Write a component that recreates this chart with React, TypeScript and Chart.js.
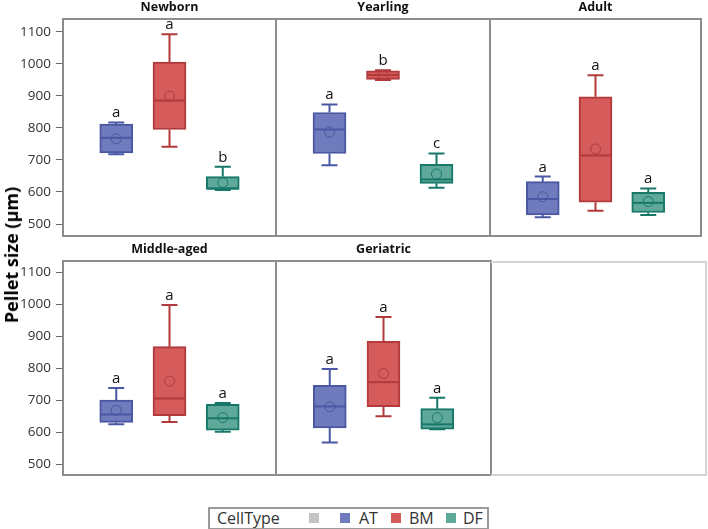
import React, { useEffect, useRef } from "react";
import { Chart, registerables } from "chart.js";

Chart.register(...registerables);

// ---------- data ----------
const panelTitles = ["Newborn", "Yearling", "Adult", "Middle-aged", "Geriatric"];
const cellTypes = ["AT", "BM", "DF"];
const whiskerLow = [
  [718, 741, 606],
  [683, 949, 613],
  [521, 541, 528],
  [624, 631, 601],
  [567, 649, 609],
];
const quartile1 = [
  [722, 795, 608],
  [720, 951, 627],
  [528, 568, 536],
  [630, 651, 606],
  [613, 679, 609],
];
const medians = [
  [769, 885, 611],
  [795, 965, 639],
  [578, 714, 566],
  [655, 705, 643],
  [680, 756, 624],
];
const quartile3 = [
  [812, 1005, 648],
  [848, 978, 686],
  [632, 897, 599],
  [700, 867, 687],
  [746, 884, 673],
];
const whiskerHigh = [
  [817, 1092, 679],
  [873, 980, 720],
  [648, 964, 611],
  [738, 997, 691],
  [797, 960, 707],
];
const means = [
  [766, 899, 629],
  [787, 963, 656],
  [585, 734, 570],
  [668, 759, 645],
  [679, 783, 645],
];
const letters = [
  ["a", "a", "b"],
  ["a", "b", "c"],
  ["a", "a", "a"],
  ["a", "a", "a"],
  ["a", "a", "a"],
];
const yTicks = [500, 600, 700, 800, 900, 1000, 1100];

// ---------- styles ----------
const fillColors = ["#6f7bbd", "#d65c5c", "#5ea99a"];
const lineColors = ["#4a58a3", "#b23a3a", "#17786a"];
const legendLabels = ["AT", "BM", "DF"];
const FONT = '"Open Sans", "Noto Sans", sans-serif';

const layouts = [
  { left: 0, top: 0, width: 278, height: 238, padL: 0, showY: true, yMin: 462.6, yMax: 1139.6 },
  { left: 274, top: 0, width: 218, height: 238, padL: 2, showY: false, yMin: 462.6, yMax: 1139.6 },
  { left: 488, top: 0, width: 215, height: 238, padL: 2, showY: false, yMin: 462.6, yMax: 1139.6 },
  { left: 0, top: 242, width: 278, height: 235, padL: 0, showY: true, yMin: 465.6, yMax: 1135 },
  { left: 274, top: 242, width: 219, height: 235, padL: 2, showY: false, yMin: 465.6, yMax: 1135 },
];

const BOX_W = 33;
const CAP_HALF = 8;

function Panel({ idx }: { idx: number }) {
  const ref = useRef<HTMLCanvasElement | null>(null);
  const lay = layouts[idx];

  useEffect(() => {
    if (!ref.current) return;
    const boxPlugin = {
      id: "boxparts" + idx,
      beforeDatasetsDraw(chart: any) {
        const ctx = chart.ctx;
        const xs = chart.scales.x;
        const ys = chart.scales.y;
        ctx.save();
        cellTypes.forEach((_, i) => {
          const x = xs.getPixelForValue(i + 1);
          ctx.strokeStyle = lineColors[i];
          ctx.lineWidth = 2;
          const yHi = ys.getPixelForValue(whiskerHigh[idx][i]);
          const yQ3 = ys.getPixelForValue(quartile3[idx][i]);
          const yLo = ys.getPixelForValue(whiskerLow[idx][i]);
          const yQ1 = ys.getPixelForValue(quartile1[idx][i]);
          ctx.beginPath();
          ctx.moveTo(x, yQ3);
          ctx.lineTo(x, yHi);
          ctx.moveTo(x - CAP_HALF, yHi);
          ctx.lineTo(x + CAP_HALF, yHi);
          ctx.moveTo(x, yQ1);
          ctx.lineTo(x, yLo);
          ctx.moveTo(x - CAP_HALF, yLo);
          ctx.lineTo(x + CAP_HALF, yLo);
          ctx.stroke();
        });
        ctx.restore();
      },
      afterDatasetsDraw(chart: any) {
        const ctx = chart.ctx;
        const xs = chart.scales.x;
        const ys = chart.scales.y;
        ctx.save();
        cellTypes.forEach((_, i) => {
          const x = xs.getPixelForValue(i + 1);
          ctx.strokeStyle = lineColors[i];
          ctx.lineWidth = 2;
          const yMed = ys.getPixelForValue(medians[idx][i]);
          ctx.beginPath();
          ctx.moveTo(x - BOX_W / 2 + 1, yMed);
          ctx.lineTo(x + BOX_W / 2 - 1, yMed);
          ctx.stroke();
          const yMean = ys.getPixelForValue(means[idx][i]);
          ctx.lineWidth = 1;
          ctx.beginPath();
          ctx.arc(x, yMean, 5, 0, Math.PI * 2);
          ctx.stroke();
          const yHi = ys.getPixelForValue(whiskerHigh[idx][i]);
          ctx.fillStyle = "#111";
          ctx.font = "15px " + FONT;
          ctx.textAlign = "center";
          ctx.textBaseline = "alphabetic";
          ctx.fillText(letters[idx][i], x, yHi - 5);
        });
        ctx.restore();
      },
      afterDraw(chart: any) {
        const ctx = chart.ctx;
        const a = chart.chartArea;
        ctx.save();
        ctx.strokeStyle = "#8c8c8c";
        ctx.lineWidth = 2;
        ctx.strokeRect(a.left, a.top, a.right - a.left, a.bottom - a.top);
        ctx.fillStyle = "#111";
        ctx.font = "bold 12.5px " + FONT;
        ctx.textAlign = "center";
        ctx.textBaseline = "alphabetic";
        ctx.fillText(panelTitles[idx], (a.left + a.right) / 2, a.top - 8.5);
        ctx.restore();
      },
    };

    const chart = new Chart(ref.current, {
      type: "bar",
      data: {
        datasets: [
          {
            data: cellTypes.map((_, i) => ({
              x: i + 1,
              y: [quartile1[idx][i], quartile3[idx][i]],
            })) as any,
            backgroundColor: fillColors,
            borderColor: lineColors,
            borderWidth: 2,
            borderSkipped: false,
            barThickness: BOX_W,
          } as any,
        ],
      },
      options: {
        animation: false,
        responsive: false,
        maintainAspectRatio: false,
        events: [],
        layout: { padding: { top: 19, left: lay.padL, right: 2, bottom: 2 } },
        plugins: {
          legend: { display: false },
          tooltip: { enabled: false },
          title: { display: false },
        },
        scales: {
          x: { type: "linear", min: 0, max: 4, offset: false, display: false },
          y: {
            type: "linear",
            min: lay.yMin,
            max: lay.yMax,
            display: lay.showY,
            afterBuildTicks: (scale: any) => {
              scale.ticks = yTicks.map((v) => ({ value: v }));
            },
            afterFit: (scale: any) => {
              scale.width = lay.showY ? 63 : 0;
              scale.paddingTop = 0;
              scale.paddingBottom = 0;
            },
            grid: {
              drawOnChartArea: false,
              drawTicks: true,
              tickLength: 7,
              tickColor: "#666",
              lineWidth: 1,
            },
            border: { display: false },
            ticks: {
              font: { size: 13.5, family: FONT },
              color: "#333",
              padding: 5,
              callback: (v: any) => String(v),
            },
          },
        },
      } as any,
      plugins: [boxPlugin],
    });
    return () => chart.destroy();
  }, []);

  return (
    <canvas
      ref={ref}
      width={lay.width}
      height={lay.height}
      style={{
        position: "absolute",
        left: lay.left,
        top: lay.top,
        width: lay.width,
        height: lay.height,
      }}
    />
  );
}

export default function App() {
  const legendSquares = [
    { left: 309, color: "#c4c4c4" },
    { left: 340, color: fillColors[0] },
    { left: 391, color: fillColors[1] },
    { left: 446, color: fillColors[2] },
  ];
  const legendTextLeft = [359, 409, 463];
  return (
    <div
      style={{
        position: "absolute",
        left: 0,
        top: 0,
        width: 708,
        height: 529,
        background: "#fff",
        overflow: "hidden",
        fontFamily: FONT,
      }}
    >
      {panelTitles.map((_, i) => (
        <Panel key={i} idx={i} />
      ))}
      <div
        style={{
          position: "absolute",
          left: 491,
          top: 261,
          width: 216,
          height: 215,
          boxSizing: "border-box",
          border: "2px solid #d4d4d4",
          borderLeft: "none",
        }}
      />
      <div
        style={{
          position: "absolute",
          left: 11,
          top: 255,
          transform: "translate(-50%, -50%) rotate(-90deg)",
          whiteSpace: "nowrap",
          fontWeight: "bold",
          fontSize: 18,
          lineHeight: "20px",
          color: "#000",
        }}
      >
        Pellet size (µm)
      </div>
      <div
        style={{
          position: "absolute",
          left: 208,
          top: 507,
          width: 281,
          height: 23,
          boxSizing: "border-box",
          border: "2px solid #9a9a9a",
        }}
      />
      <div
        style={{
          position: "absolute",
          left: 217,
          top: 509,
          fontSize: 16,
          lineHeight: "18px",
          color: "#333",
          whiteSpace: "nowrap",
        }}
      >
        CellType
      </div>
      {legendSquares.map((s, i) => (
        <div
          key={i}
          style={{
            position: "absolute",
            left: s.left,
            top: 513,
            width: 10,
            height: 10,
            background: s.color,
          }}
        />
      ))}
      {legendLabels.map((t, i) => (
        <div
          key={t}
          style={{
            position: "absolute",
            left: legendTextLeft[i],
            top: 509,
            fontSize: 16,
            lineHeight: "18px",
            color: "#333",
            whiteSpace: "nowrap",
          }}
        >
          {t}
        </div>
      ))}
    </div>
  );
}
